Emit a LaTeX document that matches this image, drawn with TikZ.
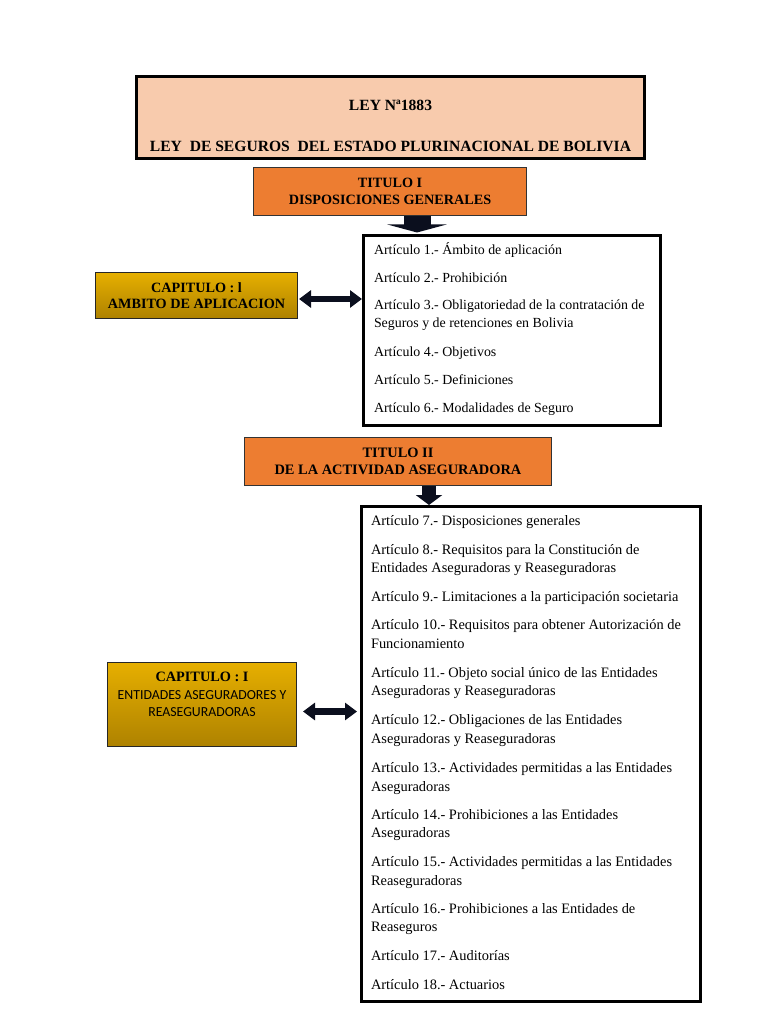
\documentclass[tikz,border=0pt]{standalone}
\usepackage{fontspec}
\setmainfont{Liberation Serif}
\newfontfamily\calibfont{Carlito}
\usepackage{tikz}
\usetikzlibrary{arrows.meta}
\definecolor{peach}{HTML}{F8CBAD}
\definecolor{titorange}{HTML}{ED7D31}
\definecolor{goldlight}{HTML}{E6AF00}
\definecolor{golddark}{HTML}{AE8200}
\definecolor{arrowink}{HTML}{0B0F1E}

\begin{document}
\begin{tikzpicture}[x=1pt,y=-1pt,
  leybox/.style={draw=black,line width=3pt,fill=peach,minimum width=508pt,minimum height=82pt,align=center,font=\bfseries\fontsize{15.6}{18}\selectfont},
  titbox/.style={draw=black!80,line width=1pt,fill=titorange,minimum height=48pt,align=center},
  capbox/.style={draw=black!85,line width=1pt,top color=goldlight,bottom color=golddark,align=center,inner sep=0pt},
  artbox/.style={draw=black,line width=3pt,fill=white,anchor=north west,inner ysep=1.5pt},
  downarr/.style n args={3}{line width=#1,draw=arrowink,-{Triangle[width=#2,length=#3]}},
  bothway/.style={line width=6.5pt,draw=arrowink,{Triangle[width=17pt,length=12pt]}-{Triangle[width=17pt,length=12pt]}}]
\useasboundingbox[fill=white] (0,0) rectangle (768,1024);

\node[leybox] (ley) at (390.5,117.5) {\rule{0pt}{27pt}LEY Nª1883\\[23pt]LEY\ \ DE SEGUROS\ \ DEL ESTADO PLURINACIONAL DE BOLIVIA};

\node[titbox,minimum width=273pt,font=\bfseries\fontsize{14.2}{17}\selectfont] (tit1) at (390,191.5) {TITULO I\\DISPOSICIONES GENERALES};
\node[capbox,minimum width=202pt,minimum height=46pt,font=\bfseries\fontsize{14.2}{16}\selectfont] (cap1) at (196.5,295.5) {CAPITULO : l\\AMBITO DE APLICACION};
\node[artbox,inner xsep=10.5pt] (art1) at (362,234) {\parbox[c][187pt][t]{276pt}{\raggedright\fontsize{13.9}{18}\selectfont
\rule{0pt}{17.5pt}Artículo 1.- Ámbito de aplicación\\[10pt]
Artículo 2.- Prohibición\\[9pt]
Artículo 3.- Obligatoriedad de la contratación de\\
Seguros y de retenciones en Bolivia\\[11pt]
Artículo 4.- Objetivos\\[10pt]
Artículo 5.- Definiciones\\[10pt]
Artículo 6.- Modalidades de Seguro}};

\node[titbox,minimum width=307pt,font=\bfseries\fontsize{14.4}{17}\selectfont] (tit2) at (398,461.5) {TITULO II\\DE LA ACTIVIDAD ASEGURADORA};
\node[capbox,minimum width=189pt,minimum height=84pt,font=\fontsize{13.8}{17.5}\selectfont] (cap2) at (202,704.5) {{\bfseries\fontsize{14.3}{17.5}\selectfont CAPITULO : I}\\{\calibfont ENTIDADES ASEGURADORES Y}\\{\calibfont REASEGURADORAS}\rule[-20pt]{0pt}{20pt}};
\node[artbox,inner xsep=9.5pt] (art2) at (360,505) {\parbox[c][492pt][t]{320pt}{\raggedright\fontsize{14.4}{18.6}\selectfont
\rule{0pt}{17pt}Artículo 7.- Disposiciones generales\\[10.4pt]
Artículo 8.- Requisitos para la Constitución de\\
Entidades Aseguradoras y Reaseguradoras\\[10.4pt]
Artículo 9.- Limitaciones a la participación societaria\\[9.4pt]
Artículo 10.- Requisitos para obtener Autorización de\\
Funcionamiento\\[10.4pt]
Artículo 11.- Objeto social único de las Entidades\\
Aseguradoras y Reaseguradoras\\[10.4pt]
Artículo 12.- Obligaciones de las Entidades\\
Aseguradoras y Reaseguradoras\\[10.4pt]
Artículo 13.- Actividades permitidas a las Entidades\\
Aseguradoras\\[9.4pt]
Artículo 14.- Prohibiciones a las Entidades\\
Aseguradoras\\[10.4pt]
Artículo 15.- Actividades permitidas a las Entidades\\
Reaseguradoras\\[9.4pt]
Artículo 16.- Prohibiciones a las Entidades de\\
Reaseguros\\[10.4pt]
Artículo 17.- Auditorías\\[10.4pt]
Artículo 18.- Actuarios}};

\coordinate (a1) at (417,0);
\coordinate (a2) at (429,0);
\draw[downarr={27pt}{59pt}{8pt},shorten >=1.5pt] (tit1.south -| a1) -- (art1.north -| a1);
\draw[downarr={14pt}{26pt}{10pt}] (tit2.south -| a2) -- (art2.north -| a2);

\coordinate (c1) at ([yshift=-3.5pt]cap1.east);
\coordinate (c2) at ([yshift=-7pt]cap2.east);
\draw[bothway,shorten <=1pt] (c1) -- (c1 -| art1.west);
\draw[bothway,shorten <=6pt,shorten >=3pt] (c2) -- (c2 -| art2.west);
\end{tikzpicture}
\end{document}
